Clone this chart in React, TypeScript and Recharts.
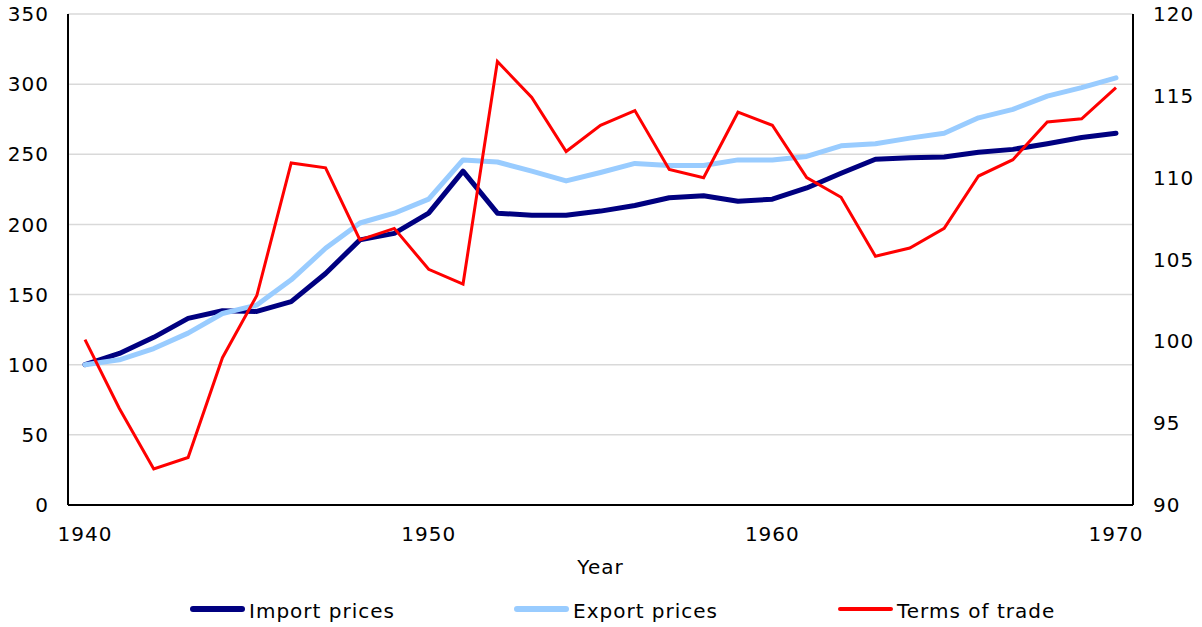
// Import / export prices and terms of trade, 1940-1970
import React from 'react';
import {
  LineChart,
  Line,
  XAxis,
  YAxis,
  CartesianGrid,
  Legend,
} from 'recharts';

const years = [
  1940, 1941, 1942, 1943, 1944, 1945, 1946, 1947, 1948, 1949,
  1950, 1951, 1952, 1953, 1954, 1955, 1956, 1957, 1958, 1959,
  1960, 1961, 1962, 1963, 1964, 1965, 1966, 1967, 1968, 1969, 1970,
];

const importPrices = [
  100, 108, 119.5, 133, 138.5, 138, 145, 165, 189, 193.6,
  208, 238, 208, 206.5, 206.5, 209.5, 213.5, 219, 220.5, 216.5,
  218, 226, 236.5, 246.5, 247.5, 248, 251.5, 253.5, 257.5, 262, 265,
];

const exportPrices = [
  100, 103.5, 111.5, 122.5, 136.5, 142.5, 160.5, 183, 201, 208,
  218, 246, 244.5, 238, 231, 237, 243.5, 242, 242, 246,
  246, 248.5, 256, 257.5, 261.5, 265, 276, 282, 291.5, 297.5, 304.5,
];

const termsOfTrade = [
  100.1, 95.9, 92.2, 92.9, 99, 102.8, 110.9, 110.6, 106.2, 106.9,
  104.4, 103.5, 117.1, 114.9, 111.6, 113.2, 114.1, 110.5, 110, 114,
  113.2, 110, 108.8, 105.2, 105.7, 106.9, 110.1, 111.1, 113.4, 113.6, 115.5,
];

const xTicks = [1940, 1950, 1960, 1970];
const leftTicks = [0, 50, 100, 150, 200, 250, 300, 350];
const rightTicks = [90, 95, 100, 105, 110, 115, 120];

const series = [
  { key: 'imp', name: 'Import prices', color: '#000080', width: 5, icon: 6 },
  { key: 'exp', name: 'Export prices', color: '#99ccff', width: 5, icon: 6 },
  { key: 'tot', name: 'Terms of trade', color: '#ff0000', width: 3, icon: 4 },
];

const data = years.map(function (y, i) {
  return { year: y, imp: importPrices[i], exp: exportPrices[i], tot: termsOfTrade[i] };
});

const FONT = '"DejaVu Sans", Verdana, sans-serif';
const tickStyle = { fill: '#000', fontSize: 20, fontFamily: FONT, letterSpacing: 1 };

// legend laid out like the Excel one: fixed slots
function ChartLegend() {
  return (
    <div style={{ position: 'relative', height: 47, fontFamily: FONT, fontSize: 20 }}>
      {series.map(function (s, i) {
        return (
          <div
            key={s.key}
            style={{
              position: 'absolute',
              left: 190 + i * 324,
              top: 19,
              height: 23,
              display: 'flex',
              alignItems: 'center',
              whiteSpace: 'nowrap',
            }}
          >
            <div
              style={{
                width: 55,
                height: s.icon,
                borderRadius: s.icon / 2,
                background: s.color,
                position: 'relative',
                top: -2,
                marginRight: 4,
              }}
            />
            <span style={{ color: '#000', letterSpacing: 1 }}>{s.name}</span>
          </div>
        );
      })}
    </div>
  );
}

export default function App() {
  return (
    <div style={{ position: 'absolute', left: 0, top: 0, background: '#fff' }}>
      <LineChart
        width={1202}
        height={627}
        data={data}
        margin={{ top: 14, right: 0, bottom: 0, left: 0 }}
      >
        <CartesianGrid
          yAxisId="left"
          vertical={false}
          stroke="#d9d9d9"
          strokeWidth={1.5}
        />
        <XAxis
          dataKey="year"
          type="number"
          domain={[1940, 1970]}
          ticks={xTicks}
          padding={{ left: 17, right: 17 }}
          height={75}
          tickLine={false}
          tickMargin={16}
          axisLine={{ stroke: '#000', strokeWidth: 2 }}
          tick={tickStyle}
          label={{
            value: 'Year',
            position: 'insideBottom',
            offset: 6,
            style: { fill: '#000', fontSize: 20, fontFamily: FONT, letterSpacing: 1 },
          }}
        />
        <XAxis
          xAxisId="top"
          orientation="top"
          dataKey="year"
          type="number"
          domain={[1940, 1970]}
          height={0}
          tick={false}
          tickLine={false}
          axisLine={{ stroke: '#000', strokeWidth: 2 }}
        />
        <YAxis
          yAxisId="left"
          domain={[0, 350]}
          ticks={leftTicks}
          width={68}
          tickLine={false}
          tickMargin={13}
          axisLine={{ stroke: '#000', strokeWidth: 2 }}
          tick={tickStyle}
        />
        <YAxis
          yAxisId="right"
          orientation="right"
          domain={[90, 120]}
          ticks={rightTicks}
          width={69}
          tickLine={false}
          tickMargin={14}
          axisLine={{ stroke: '#000', strokeWidth: 2 }}
          tick={tickStyle}
        />
        <Legend verticalAlign="bottom" content={<ChartLegend />} />
        <Line
          yAxisId="left"
          dataKey="imp"
          name="Import prices"
          stroke="#000080"
          strokeWidth={5}
          strokeLinecap="round"
          strokeLinejoin="round"
          dot={false}
          activeDot={false}
          isAnimationActive={false}
        />
        <Line
          yAxisId="left"
          dataKey="exp"
          name="Export prices"
          stroke="#99ccff"
          strokeWidth={5}
          strokeLinecap="round"
          strokeLinejoin="round"
          dot={false}
          activeDot={false}
          isAnimationActive={false}
        />
        <Line
          yAxisId="right"
          dataKey="tot"
          name="Terms of trade"
          stroke="#ff0000"
          strokeWidth={3}
          dot={false}
          activeDot={false}
          isAnimationActive={false}
        />
      </LineChart>
    </div>
  );
}
